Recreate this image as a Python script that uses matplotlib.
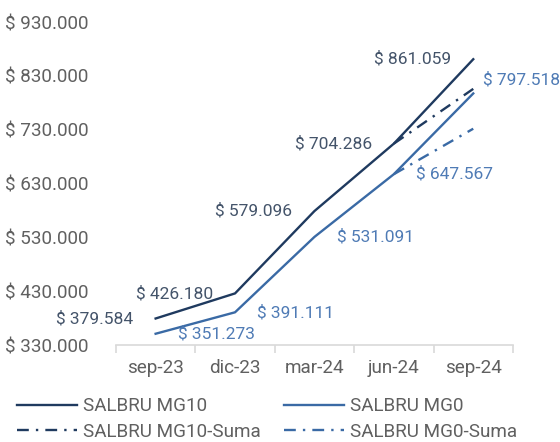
import matplotlib
matplotlib.use("Agg")
import matplotlib.pyplot as plt

plt.rcParams['font.family'] = ['Roboto', 'DejaVu Sans']

fechas = ['sep-23', 'dic-23', 'mar-24', 'jun-24', 'sep-24']
mg10 = [379584, 426180, 579096, 704286, 861059]
mg0 = [351273, 391111, 531091, 647567, 797518]
# proyecciones "Suma" (solo jun-24 -> sep-24)
mg10_suma = [704286, 806000]
mg0_suma = [647567, 732000]

c_mg10 = '#1f3a5f'
c_mg0 = '#3a6aa5'
c_lab10 = '#44546a'
c_lab0 = '#4f7bb5'
gris = '#606060'

def pesos(v):
    return "$ " + f"{v:,.0f}".replace(",", ".")

fig = plt.figure(figsize=(5.6, 4.42), dpi=100)
ax = fig.add_axes([0.207, 0.219, 0.709, 0.731])

x = list(range(len(fechas)))
l1, = ax.plot(x, mg10, color=c_mg10, lw=1.7, label='SALBRU MG10')
l2, = ax.plot(x, mg0, color=c_mg0, lw=1.7, label='SALBRU MG0')
l3, = ax.plot(x[3:], mg10_suma, color=c_mg10, lw=1.7, ls=(0, (5, 3, 1, 3)), label='SALBRU MG10-Suma')
l4, = ax.plot(x[3:], mg0_suma, color=c_mg0, lw=1.7, ls=(0, (5, 3, 1, 3)), label='SALBRU MG0-Suma')

for i, v in enumerate(mg10):
    ax.annotate(pesos(v), (i, v), xytext=(-16, 0), textcoords='offset points',
                ha='right', va='center', fontsize=12.5, color=c_lab10)
for i, v in enumerate(mg0):
    off = (7, 10) if i == 4 else (16, 0)
    ax.annotate(pesos(v), (i, v), xytext=off, textcoords='offset points',
                ha='left', va='center', fontsize=12.5, color=c_lab0,
                annotation_clip=False)

ax.set_xlim(-0.5, len(fechas) - 0.5)
ax.set_ylim(330000, 930000)
ax.set_yticks(range(330000, 930001, 100000))
ax.set_yticklabels([pesos(t) for t in range(330000, 930001, 100000)])
ax.set_xticks(x)
ax.set_xticklabels(fechas)
ax.set_xticks([i - 0.5 for i in range(len(fechas) + 1)], minor=True)

for s in ['top', 'right', 'left']:
    ax.spines[s].set_visible(False)
ax.spines['bottom'].set_color('#d9d9d9')
ax.spines['bottom'].set_linewidth(1.2)
ax.tick_params(axis='y', length=0, pad=20, labelsize=13.6, labelcolor=gris)
ax.tick_params(axis='x', which='major', length=0, pad=10, labelsize=13.6, labelcolor=gris)
ax.tick_params(axis='x', which='minor', length=6, color='#d9d9d9', width=1.2)

leg = fig.legend([l1, l3, l2, l4], [h.get_label() for h in [l1, l3, l2, l4]],
                 loc='lower left', bbox_to_anchor=(0.0, -0.036), ncol=2, frameon=False,
                 fontsize=13.6, handlelength=3.2, handletextpad=0.3, columnspacing=1.2,
                 labelspacing=0.4)
for t in leg.get_texts():
    t.set_color(gris)

fig.savefig('out.png', dpi=100)
